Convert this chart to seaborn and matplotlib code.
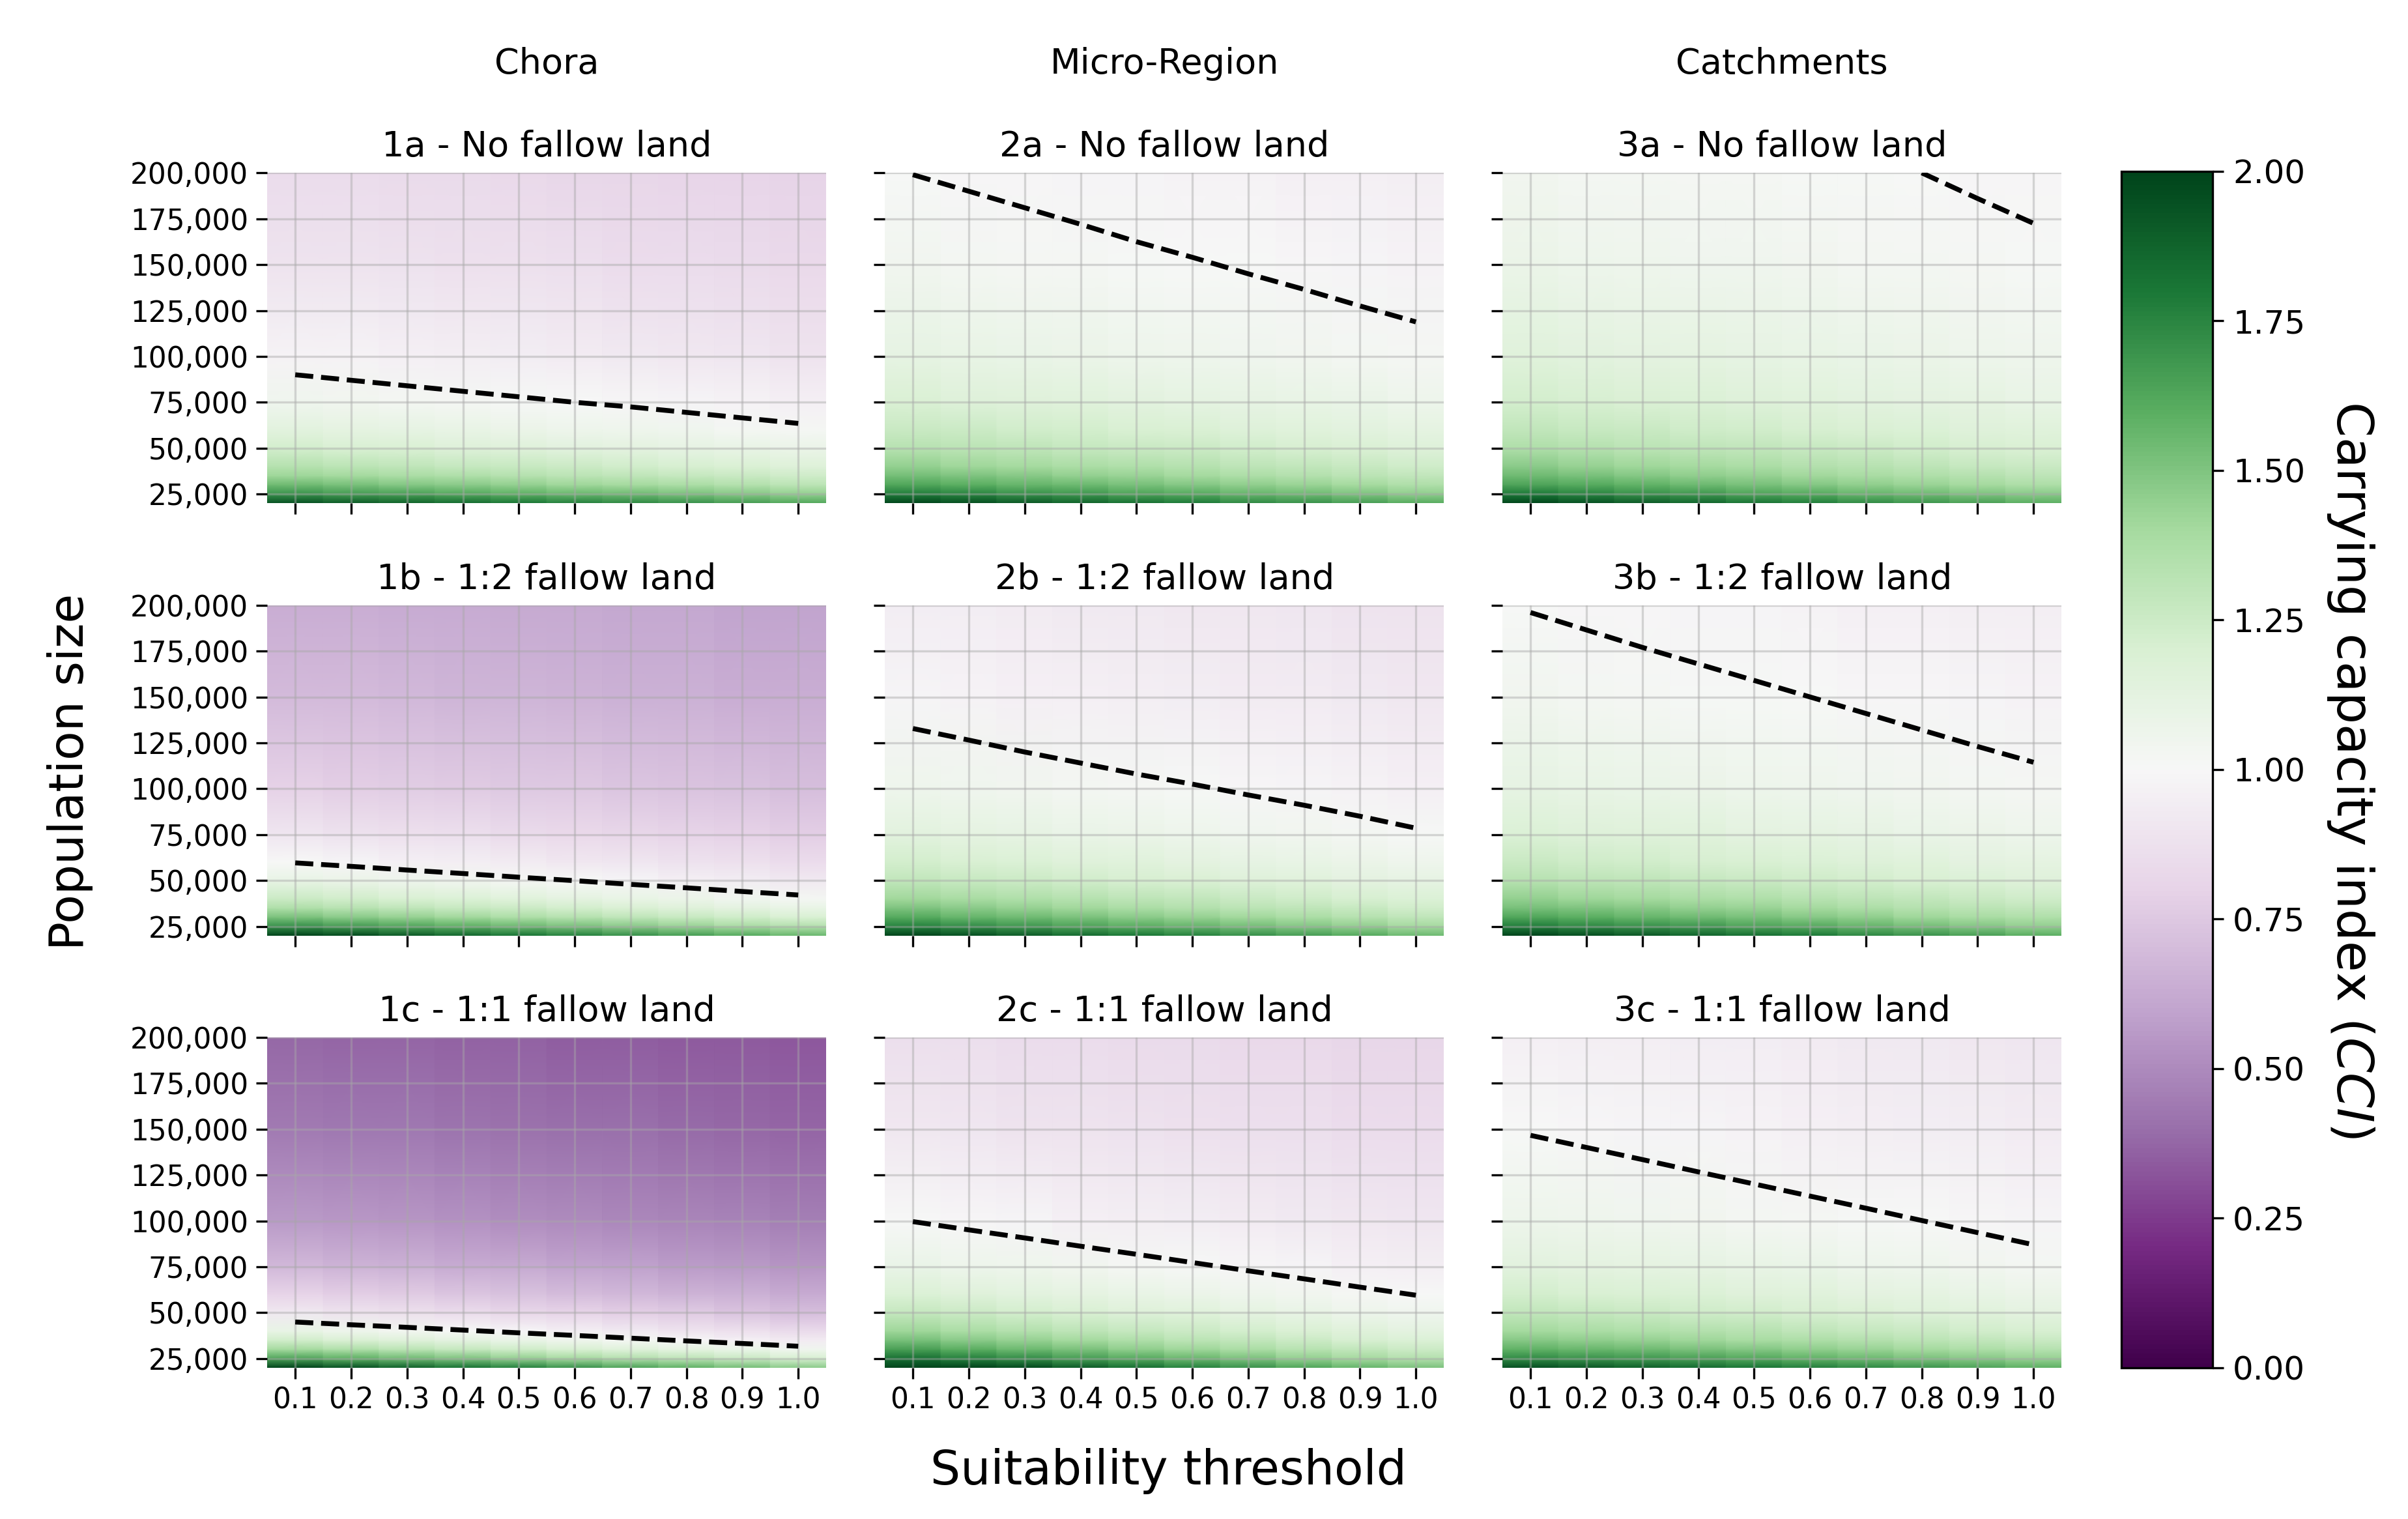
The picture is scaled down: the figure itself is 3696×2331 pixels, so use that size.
import numpy as np
import pandas as pd
import matplotlib
matplotlib.use("Agg")
import matplotlib.pyplot as plt
import seaborn as sns
from matplotlib.colors import Normalize
from matplotlib.cm import ScalarMappable

# =========================
# Setup
# =========================
sns.set_theme(
    style="ticks",
    rc={
        "text.color": "black",
        "axes.labelcolor": "black",
        "xtick.color": "black",
        "ytick.color": "black",
    },
)
plt.rcParams["font.family"] = ["DejaVu Sans"]

# =========================
# Data
# =========================
thresholds = [0.1, 0.2, 0.3, 0.4, 0.5, 0.6, 0.7, 0.8, 0.9, 1.0]
population = [20000, 25000, 30000, 35000, 40000, 50000, 60000, 75000, 100000, 150000, 200000]
pop_ticks = [25000, 50000, 75000, 100000, 125000, 150000, 175000, 200000]
cbar_ticks = [0.0, 0.25, 0.5, 0.75, 1.0, 1.25, 1.5, 1.75, 2.0]

regions = ["Chora", "Micro-Region", "Catchments"]
fallow = ["No fallow land", "1:2 fallow land", "1:1 fallow land"]

# CCI: one row per population level, one column per threshold
cci_1a = [
    [1.95, 1.91, 1.88, 1.85, 1.81, 1.77, 1.74, 1.71, 1.67, 1.63],
    [1.70, 1.67, 1.65, 1.62, 1.59, 1.56, 1.54, 1.51, 1.48, 1.45],
    [1.54, 1.52, 1.49, 1.47, 1.45, 1.42, 1.40, 1.38, 1.35, 1.32],
    [1.42, 1.40, 1.38, 1.36, 1.34, 1.32, 1.30, 1.28, 1.26, 1.24],
    [1.34, 1.32, 1.30, 1.28, 1.27, 1.25, 1.23, 1.21, 1.19, 1.17],
    [1.22, 1.20, 1.19, 1.17, 1.16, 1.14, 1.13, 1.11, 1.10, 1.08],
    [1.14, 1.12, 1.11, 1.10, 1.08, 1.07, 1.06, 1.05, 1.03, 1.02],
    [1.05, 1.04, 1.03, 1.02, 1.01, 1.00, 0.99, 0.98, 0.97, 0.96],
    [0.97, 0.97, 0.96, 0.95, 0.94, 0.93, 0.92, 0.91, 0.90, 0.89],
    [0.89, 0.89, 0.88, 0.87, 0.87, 0.86, 0.85, 0.85, 0.84, 0.83],
    [0.85, 0.85, 0.84, 0.84, 0.83, 0.82, 0.82, 0.81, 0.81, 0.80],
]
cci_1b = [
    [2.00, 1.97, 1.91, 1.86, 1.81, 1.76, 1.71, 1.66, 1.61, 1.56],
    [1.71, 1.67, 1.63, 1.59, 1.55, 1.51, 1.47, 1.43, 1.39, 1.35],
    [1.51, 1.47, 1.44, 1.41, 1.37, 1.34, 1.30, 1.27, 1.24, 1.20],
    [1.36, 1.33, 1.30, 1.27, 1.25, 1.22, 1.19, 1.16, 1.13, 1.10],
    [1.25, 1.23, 1.20, 1.18, 1.15, 1.13, 1.10, 1.08, 1.05, 1.03],
    [1.10, 1.08, 1.06, 1.04, 1.02, 1.00, 0.98, 0.96, 0.94, 0.92],
    [1.00, 0.98, 0.96, 0.95, 0.93, 0.91, 0.90, 0.88, 0.87, 0.85],
    [0.90, 0.88, 0.87, 0.86, 0.84, 0.83, 0.82, 0.80, 0.79, 0.78],
    [0.79, 0.78, 0.77, 0.76, 0.75, 0.75, 0.74, 0.73, 0.72, 0.71],
    [0.69, 0.69, 0.68, 0.67, 0.67, 0.66, 0.65, 0.65, 0.64, 0.64],
    [0.64, 0.64, 0.63, 0.63, 0.62, 0.62, 0.61, 0.61, 0.60, 0.60],
]
cci_1c = [
    [2.00, 1.94, 1.88, 1.82, 1.76, 1.70, 1.64, 1.58, 1.53, 1.47],
    [1.64, 1.59, 1.54, 1.50, 1.45, 1.40, 1.35, 1.31, 1.26, 1.21],
    [1.40, 1.36, 1.32, 1.28, 1.24, 1.20, 1.16, 1.12, 1.09, 1.05],
    [1.23, 1.19, 1.16, 1.13, 1.09, 1.06, 1.03, 0.99, 0.96, 0.93],
    [1.10, 1.07, 1.04, 1.01, 0.98, 0.95, 0.92, 0.89, 0.87, 0.84],
    [0.92, 0.89, 0.87, 0.85, 0.82, 0.80, 0.78, 0.76, 0.73, 0.71],
    [0.80, 0.78, 0.76, 0.74, 0.72, 0.70, 0.68, 0.66, 0.65, 0.63],
    [0.68, 0.66, 0.65, 0.63, 0.62, 0.60, 0.59, 0.57, 0.56, 0.54],
    [0.56, 0.55, 0.54, 0.53, 0.51, 0.50, 0.49, 0.48, 0.47, 0.46],
    [0.44, 0.43, 0.43, 0.42, 0.41, 0.40, 0.40, 0.39, 0.38, 0.37],
    [0.38, 0.37, 0.37, 0.36, 0.36, 0.35, 0.35, 0.34, 0.34, 0.33],
]
cci_2a = [
    [2.00, 1.96, 1.92, 1.88, 1.83, 1.79, 1.74, 1.71, 1.66, 1.61],
    [1.78, 1.75, 1.71, 1.68, 1.64, 1.61, 1.57, 1.54, 1.50, 1.46],
    [1.63, 1.60, 1.57, 1.55, 1.52, 1.49, 1.46, 1.43, 1.40, 1.36],
    [1.53, 1.50, 1.48, 1.45, 1.43, 1.40, 1.37, 1.35, 1.32, 1.29],
    [1.45, 1.42, 1.40, 1.38, 1.36, 1.34, 1.31, 1.29, 1.27, 1.24],
    [1.33, 1.32, 1.30, 1.28, 1.26, 1.25, 1.23, 1.21, 1.19, 1.17],
    [1.26, 1.25, 1.23, 1.22, 1.20, 1.19, 1.17, 1.15, 1.14, 1.12],
    [1.19, 1.17, 1.16, 1.15, 1.14, 1.12, 1.11, 1.10, 1.09, 1.07],
    [1.11, 1.10, 1.09, 1.08, 1.07, 1.06, 1.05, 1.04, 1.03, 1.02],
    [1.04, 1.03, 1.02, 1.02, 1.01, 1.00, 1.00, 0.99, 0.98, 0.97],
    [1.00, 0.99, 0.99, 0.98, 0.98, 0.97, 0.97, 0.96, 0.96, 0.95],
]
cci_2b = [
    [2.00, 1.95, 1.90, 1.85, 1.80, 1.76, 1.71, 1.66, 1.61, 1.55],
    [1.76, 1.72, 1.68, 1.64, 1.60, 1.57, 1.53, 1.49, 1.45, 1.40],
    [1.61, 1.57, 1.54, 1.51, 1.47, 1.44, 1.41, 1.38, 1.34, 1.30],
    [1.50, 1.47, 1.44, 1.41, 1.38, 1.35, 1.32, 1.30, 1.27, 1.23],
    [1.41, 1.39, 1.36, 1.34, 1.31, 1.29, 1.26, 1.24, 1.21, 1.18],
    [1.29, 1.27, 1.25, 1.23, 1.21, 1.19, 1.17, 1.15, 1.13, 1.11],
    [1.22, 1.20, 1.18, 1.16, 1.15, 1.13, 1.11, 1.10, 1.08, 1.06],
    [1.14, 1.12, 1.11, 1.09, 1.08, 1.07, 1.05, 1.04, 1.03, 1.01],
    [1.06, 1.05, 1.04, 1.03, 1.02, 1.01, 0.99, 0.98, 0.97, 0.96],
    [0.98, 0.97, 0.96, 0.96, 0.95, 0.94, 0.93, 0.93, 0.92, 0.91],
    [0.94, 0.94, 0.93, 0.92, 0.92, 0.91, 0.91, 0.90, 0.89, 0.89],
]
cci_2c = [
    [2.00, 2.00, 1.97, 1.90, 1.83, 1.76, 1.70, 1.63, 1.57, 1.51],
    [1.83, 1.77, 1.72, 1.66, 1.61, 1.56, 1.51, 1.45, 1.40, 1.35],
    [1.65, 1.60, 1.55, 1.51, 1.46, 1.42, 1.38, 1.33, 1.29, 1.25],
    [1.52, 1.47, 1.44, 1.40, 1.36, 1.32, 1.29, 1.25, 1.21, 1.18],
    [1.42, 1.38, 1.35, 1.31, 1.28, 1.25, 1.22, 1.19, 1.16, 1.13],
    [1.28, 1.25, 1.22, 1.20, 1.17, 1.15, 1.12, 1.10, 1.07, 1.05],
    [1.18, 1.16, 1.14, 1.12, 1.10, 1.08, 1.06, 1.04, 1.02, 1.00],
    [1.09, 1.07, 1.06, 1.04, 1.02, 1.01, 0.99, 0.98, 0.96, 0.95],
    [1.00, 0.99, 0.98, 0.96, 0.95, 0.94, 0.93, 0.92, 0.91, 0.90],
    [0.91, 0.90, 0.89, 0.89, 0.88, 0.87, 0.86, 0.86, 0.85, 0.85],
    [0.86, 0.86, 0.85, 0.85, 0.84, 0.84, 0.83, 0.83, 0.82, 0.82],
]
cci_3a = [
    [2.00, 1.95, 1.91, 1.87, 1.82, 1.78, 1.73, 1.69, 1.65, 1.60],
    [1.79, 1.75, 1.71, 1.68, 1.64, 1.61, 1.57, 1.54, 1.50, 1.47],
    [1.64, 1.61, 1.58, 1.55, 1.52, 1.49, 1.46, 1.43, 1.40, 1.37],
    [1.54, 1.52, 1.49, 1.46, 1.44, 1.41, 1.39, 1.36, 1.34, 1.31],
    [1.47, 1.44, 1.42, 1.40, 1.38, 1.35, 1.33, 1.31, 1.28, 1.26],
    [1.36, 1.34, 1.32, 1.30, 1.29, 1.27, 1.25, 1.23, 1.21, 1.19],
    [1.29, 1.27, 1.26, 1.24, 1.23, 1.21, 1.19, 1.18, 1.16, 1.15],
    [1.22, 1.21, 1.19, 1.18, 1.17, 1.15, 1.14, 1.13, 1.12, 1.10],
    [1.15, 1.14, 1.13, 1.12, 1.11, 1.10, 1.09, 1.08, 1.07, 1.06],
    [1.08, 1.07, 1.06, 1.05, 1.05, 1.04, 1.03, 1.03, 1.02, 1.01],
    [1.04, 1.03, 1.03, 1.02, 1.02, 1.01, 1.01, 1.00, 0.99, 0.99],
]
cci_3b = [
    [2.00, 1.96, 1.92, 1.87, 1.83, 1.79, 1.74, 1.70, 1.65, 1.60],
    [1.78, 1.74, 1.71, 1.68, 1.64, 1.61, 1.57, 1.53, 1.49, 1.45],
    [1.63, 1.60, 1.57, 1.54, 1.52, 1.48, 1.46, 1.42, 1.39, 1.36],
    [1.52, 1.50, 1.48, 1.45, 1.43, 1.40, 1.37, 1.34, 1.32, 1.29],
    [1.45, 1.42, 1.40, 1.38, 1.36, 1.33, 1.31, 1.29, 1.26, 1.24],
    [1.33, 1.31, 1.30, 1.28, 1.26, 1.24, 1.22, 1.20, 1.18, 1.16],
    [1.26, 1.24, 1.23, 1.21, 1.20, 1.18, 1.17, 1.15, 1.13, 1.12],
    [1.18, 1.17, 1.16, 1.15, 1.13, 1.12, 1.11, 1.09, 1.08, 1.07],
    [1.11, 1.10, 1.09, 1.08, 1.07, 1.06, 1.05, 1.04, 1.03, 1.02],
    [1.04, 1.03, 1.02, 1.01, 1.01, 1.00, 0.99, 0.99, 0.98, 0.97],
    [1.00, 0.99, 0.99, 0.98, 0.98, 0.97, 0.96, 0.96, 0.95, 0.95],
]
cci_3c = [
    [1.95, 1.92, 1.89, 1.85, 1.81, 1.77, 1.73, 1.69, 1.64, 1.59],
    [1.73, 1.70, 1.68, 1.65, 1.62, 1.58, 1.55, 1.51, 1.48, 1.44],
    [1.58, 1.56, 1.54, 1.51, 1.49, 1.46, 1.43, 1.40, 1.37, 1.34],
    [1.48, 1.46, 1.44, 1.42, 1.39, 1.37, 1.35, 1.32, 1.29, 1.26],
    [1.40, 1.38, 1.36, 1.35, 1.33, 1.30, 1.28, 1.26, 1.23, 1.21],
    [1.29, 1.28, 1.26, 1.24, 1.23, 1.21, 1.19, 1.17, 1.15, 1.13],
    [1.22, 1.20, 1.19, 1.18, 1.16, 1.15, 1.13, 1.12, 1.10, 1.08],
    [1.14, 1.13, 1.12, 1.11, 1.10, 1.09, 1.07, 1.06, 1.04, 1.03],
    [1.07, 1.06, 1.05, 1.04, 1.03, 1.02, 1.01, 1.00, 0.99, 0.98],
    [1.00, 0.99, 0.98, 0.98, 0.97, 0.96, 0.95, 0.94, 0.94, 0.93],
    [0.96, 0.95, 0.95, 0.94, 0.94, 0.93, 0.92, 0.92, 0.91, 0.90],
]

# Population at which CCI = 1 (dashed line)
nan = float("nan")
line_1a = [90000, 87000, 84000, 81000, 78000, 75000, 72500, 69500, 66500, 63500]
line_1b = [59600, 57700, 55700, 53800, 51800, 49900, 47900, 46000, 44000, 42100]
line_1c = [44900, 43400, 42000, 40500, 39000, 37600, 36100, 34600, 33200, 31700]
line_2a = [199000, 190000, 181000, 172000, 162500, 154000, 145000, 136500, 127500, 118800]
line_2b = [132800, 126500, 120000, 114000, 108000, 102500, 96600, 91000, 85000, 78500]
line_2c = [99600, 95100, 90700, 86200, 81800, 77300, 72800, 68400, 63900, 59500]
line_3a = [nan, nan, nan, nan, nan, nan, nan, 200000, 186000, 172500]
line_3b = [196000, 186500, 177000, 168000, 159000, 150000, 141000, 132000, 123000, 114400]
line_3c = [146600, 140000, 133400, 126700, 120100, 113500, 106900, 100200, 93600, 87000]

cci_data = {"1a": cci_1a, "1b": cci_1b, "1c": cci_1c,
            "2a": cci_2a, "2b": cci_2b, "2c": cci_2c,
            "3a": cci_3a, "3b": cci_3b, "3c": cci_3c}
line_data = {"1a": line_1a, "1b": line_1b, "1c": line_1c,
             "2a": line_2a, "2b": line_2b, "2c": line_2c,
             "3a": line_3a, "3b": line_3b, "3c": line_3c}

# =========================
# Figure Setup
# =========================
fig = plt.figure(figsize=(12.32, 7.77), dpi=300)

col_left = [0.1110, 0.3675, 0.6240]
row_bottom = [0.6687, 0.3841, 0.0996]
ax_w, ax_h = 0.2321, 0.2175

thr = np.array(thresholds)
half = (thr[1] - thr[0]) / 2
# each threshold column is a block of constant colour across its width
x_edges = np.column_stack([thr - half, thr + half]).ravel()

for r in range(3):
    for c in range(3):
        key = f"{c + 1}{'abc'[r]}"
        ax = fig.add_axes([col_left[c], row_bottom[r], ax_w, ax_h])

        cci = np.repeat(np.array(cci_data[key]), 2, axis=1)
        ax.pcolormesh(x_edges, population, cci, shading="gouraud",
                      cmap="PRGn", vmin=0, vmax=2, zorder=1)

        line = pd.DataFrame({"threshold": thresholds,
                             "population": line_data[key]}).dropna()
        sns.lineplot(data=line, x="threshold", y="population", ax=ax,
                     color="black", linestyle="--", linewidth=1.8, zorder=3)

        ax.set_xlim(thr[0] - half, thr[-1] + half)
        ax.set_ylim(20000, 200000)
        ax.set_xticks(thresholds)
        ax.set_xticklabels([f"{t:.1f}" for t in thresholds])
        ax.set_yticks(pop_ticks)
        ax.set_yticklabels([f"{p:,}" for p in pop_ticks])
        ax.set_xlabel("")
        ax.set_ylabel("")

        ax.set_axisbelow(False)
        ax.grid(True, color="#a8a8a8", alpha=0.45, linewidth=0.8)
        for s in ax.spines.values():
            s.set_visible(False)

        ax.tick_params(axis="both", labelsize=10.5, length=4, width=0.8,
                       color="black", pad=3)
        if c > 0:
            ax.tick_params(labelleft=False)
        if r < 2:
            ax.tick_params(labelbottom=False)

        ax.set_title(f"{key} - {fallow[r]}", fontsize=13, pad=6)

# Column headings
for c in range(3):
    fig.text(col_left[c] + ax_w / 2, 0.958, regions[c],
             ha="center", va="center", fontsize=13)

# Shared axis labels
fig.text(0.029, 0.492, "Population size", rotation=90,
         ha="center", va="center", fontsize=17.5)
fig.text(0.4853, 0.0315, "Suitability threshold",
         ha="center", va="center", fontsize=17.5)

# =========================
# Colorbar
# =========================
cax = fig.add_axes([0.8810, 0.0996, 0.0378, 0.7876])
sm = ScalarMappable(norm=Normalize(vmin=0, vmax=2), cmap="PRGn")
cbar = fig.colorbar(sm, cax=cax)
cbar.set_ticks(cbar_ticks)
cbar.set_ticklabels([f"{t:.2f}" for t in cbar_ticks])
cbar.ax.tick_params(labelsize=12, length=4, width=0.8, color="black")
cbar.outline.set_linewidth(0.8)
cbar.outline.set_edgecolor("black")
cbar.set_label(r"Carrying capacity index ($\it{CCI}$)", rotation=270,
               fontsize=18.6, labelpad=26)

# =========================
# Save
# =========================
fig.savefig("out.png", dpi=300)
plt.close(fig)
